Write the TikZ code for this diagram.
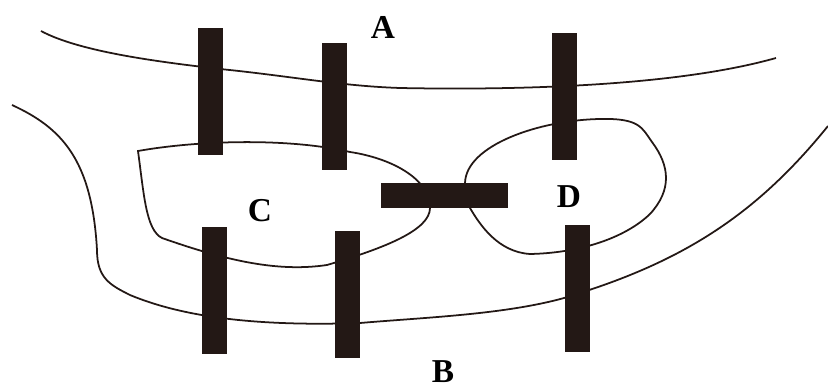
\documentclass[tikz,border=0pt]{standalone}
\usepackage{fontspec}
\setmainfont{Liberation Serif}
\usepackage{tikz}
\newcommand{\picW}{8.28}
\newcommand{\picH}{3.87}
\definecolor{bridgeBrown}{HTML}{231815}
\newcommand{\bridgeBox}[4]{
    \fill[bridgeBrown] (#1,#2) rectangle (#3,#4);
}
\tikzset{
    shore/.style={draw=bridgeBrown, line width=0.5pt},
    landlabel/.style={font=\bfseries\fontsize{9.5}{9.5}\selectfont, text=black, inner sep=0pt}
}

\begin{document}
\begin{tikzpicture}[x=1cm,y=-1cm]
        \useasboundingbox (0,0) rectangle (\picW,\picH);
        \fill[white] (0,0) rectangle (\picW,\picH);

        % upper shore
        \path[shore] (0.41,0.31) .. controls (0.80,0.52) and (1.60,0.62) .. (2.20,0.69)
            .. controls (2.90,0.76) and (3.40,0.86) .. (4.00,0.88)
            .. controls (5.00,0.90) and (6.70,0.88) .. (7.76,0.58);
        % lower shore
        \path[shore] (0.12,1.05) .. controls (0.62,1.28) and (0.92,1.60) .. (0.97,2.50)
            .. controls (0.97,2.78) and (1.10,2.85) .. (1.30,2.95)
            .. controls (1.90,3.20) and (2.70,3.26) .. (3.60,3.23)
            .. controls (4.30,3.17) and (5.20,3.14) .. (5.80,2.93)
            .. controls (6.90,2.58) and (7.60,2.10) .. (8.28,1.26);
        % island C
        \path[shore] (1.38,1.51) .. controls (2.00,1.40) and (2.90,1.38) .. (3.50,1.52)
            .. controls (3.90,1.58) and (4.30,1.78) .. (4.30,2.08)
            .. controls (4.30,2.30) and (3.85,2.48) .. (3.27,2.65)
            .. controls (2.80,2.72) and (2.30,2.62) .. (1.62,2.38)
            .. controls (1.46,2.30) and (1.44,1.95) .. (1.38,1.51) -- cycle;
        % island D
        \path[shore] (4.65,1.83) .. controls (4.66,1.45) and (5.40,1.20) .. (6.00,1.19)
            .. controls (6.40,1.18) and (6.42,1.28) .. (6.52,1.42)
            .. controls (6.70,1.66) and (6.72,1.90) .. (6.50,2.14)
            .. controls (6.25,2.38) and (5.80,2.53) .. (5.30,2.54)
            .. controls (4.98,2.52) and (4.80,2.25) .. (4.70,2.08) -- cycle;

        % bridges
        \bridgeBox{1.98}{0.28}{2.23}{1.55}
        \bridgeBox{3.22}{0.43}{3.47}{1.70}
        \bridgeBox{5.52}{0.33}{5.77}{1.60}
        \bridgeBox{2.02}{2.27}{2.27}{3.54}
        \bridgeBox{3.35}{2.31}{3.60}{3.58}
        \bridgeBox{5.65}{2.25}{5.90}{3.52}
        \bridgeBox{3.81}{1.83}{5.08}{2.08}

        \node[landlabel] (landA) at (3.83,0.27) {A};
        \node[landlabel] (landB) at (4.43,3.72) {B};
        \node[landlabel] (landC) at (2.60,2.11) {C};
        \node[landlabel] (landD) at (5.69,1.97) {D};
    \end{tikzpicture}
\end{document}
